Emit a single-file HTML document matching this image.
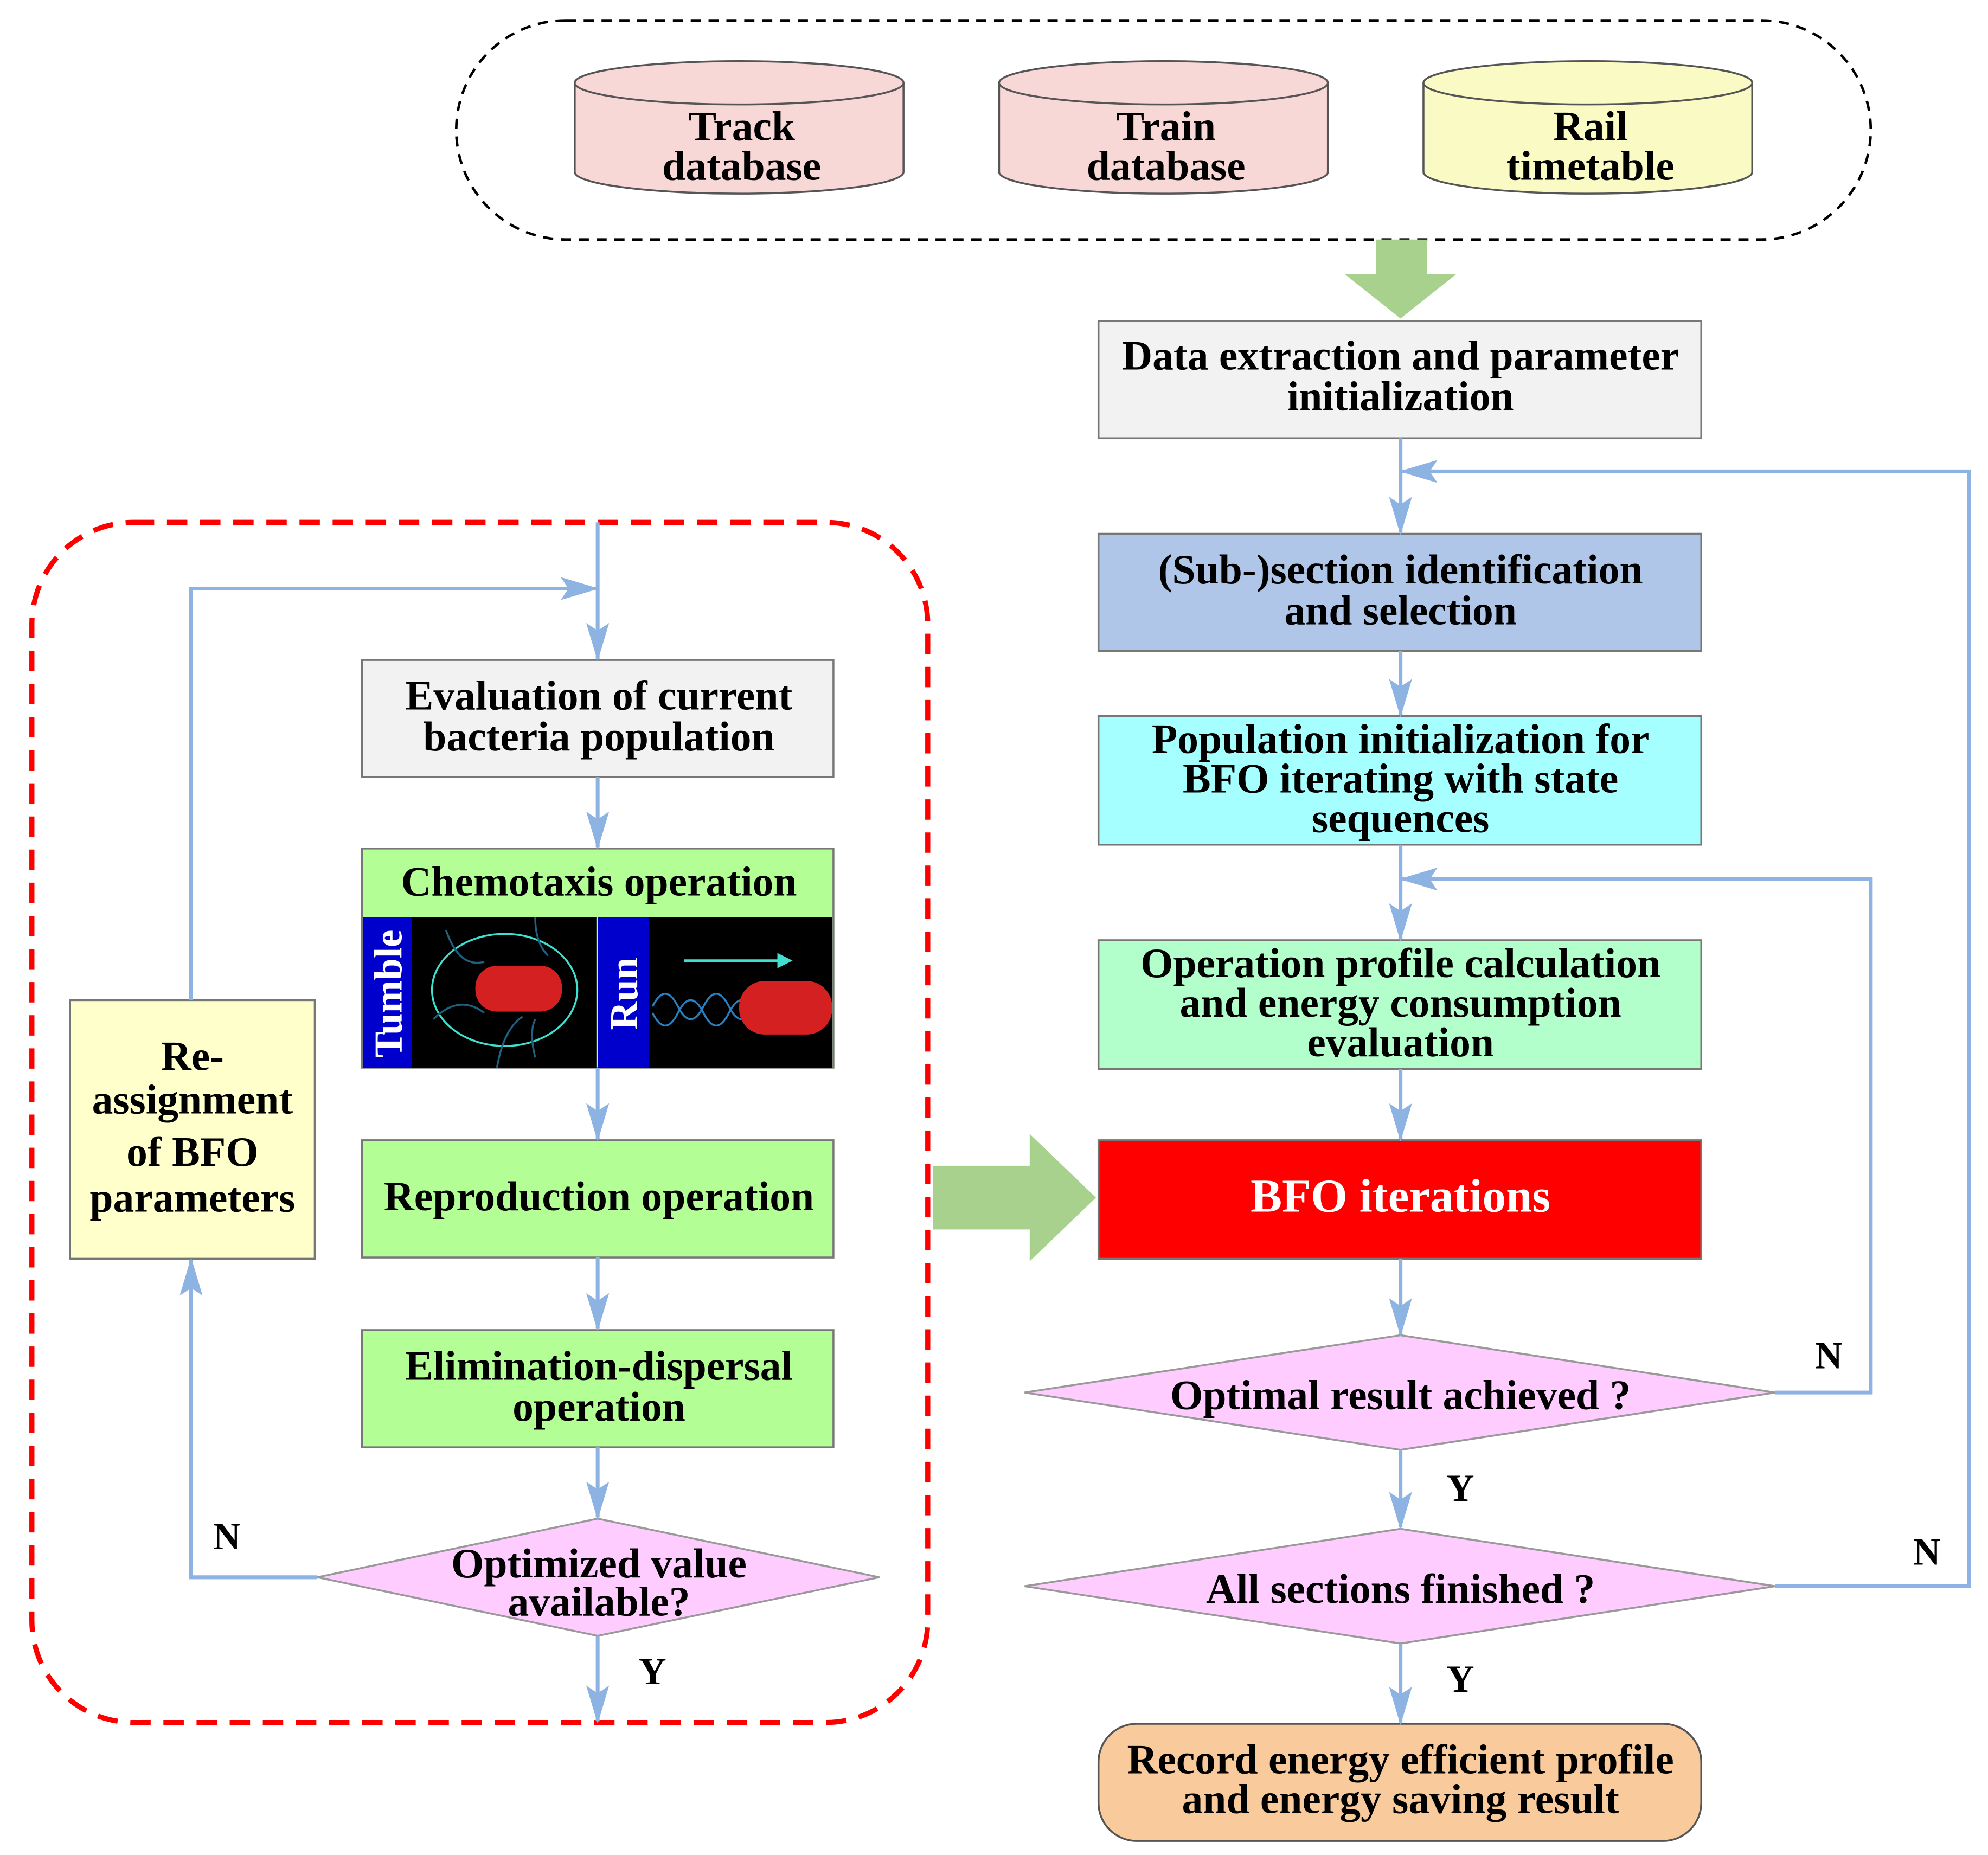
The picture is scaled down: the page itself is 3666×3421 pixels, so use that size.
<!DOCTYPE html>
<html><head><meta charset="utf-8"><style>
html,body{margin:0;padding:0;background:#fff}
svg{display:block}
text{font-family:"Liberation Serif",serif;font-weight:bold;fill:#000;text-anchor:middle}
</style></head><body>
<svg width="3666" height="3421" viewBox="0 0 1560 1456" preserveAspectRatio="none" xmlns="http://www.w3.org/2000/svg">
<defs>
<marker id="a" markerWidth="30" markerHeight="18" refX="28" refY="9" orient="auto" markerUnits="userSpaceOnUse" viewBox="0 0 30 18">
<path d="M0,0 L30,9 L0,18 L6,9 z" fill="#8db3e2"/></marker>
</defs>
<style>.l{stroke:#8db3e2;stroke-width:3;fill:none}</style>
<rect x="358" y="16" width="1110" height="172" rx="86" fill="none" stroke="#000" stroke-width="2" stroke-dasharray="8,6"/>
<g stroke="#555" stroke-width="1.5">
<path d="M451,65 V135 A129,17 0 0 0 709,135 V65" fill="#f8d7d7"/><ellipse cx="580" cy="65" rx="129" ry="17" fill="#f8d7d7"/>
<path d="M784,65 V135 A129,17 0 0 0 1042,135 V65" fill="#f8d7d7"/><ellipse cx="913" cy="65" rx="129" ry="17" fill="#f8d7d7"/>
<path d="M1117,65 V135 A129,17 0 0 0 1375,135 V65" fill="#fafbc4"/><ellipse cx="1246" cy="65" rx="129" ry="17" fill="#fafbc4"/>
</g>
<text x="582" y="110" font-size="33">Track</text><text x="582" y="141" font-size="33">database</text>
<text x="915" y="110" font-size="33">Train</text><text x="915" y="141" font-size="33">database</text>
<text x="1248" y="110" font-size="33">Rail</text><text x="1248" y="141" font-size="33">timetable</text>
<polygon points="1080,188 1120,188 1120,215 1143,215 1099,250 1055,215 1080,215" fill="#a9d18e"/>
<rect x="862" y="252" width="473" height="92" fill="#f2f2f2" stroke="#777" stroke-width="1.5"/>
<text x="1099" y="290" font-size="33">Data extraction and parameter</text><text x="1099" y="322" font-size="33">initialization</text>
<rect x="862" y="419" width="473" height="92" fill="#afc6e8" stroke="#777" stroke-width="1.5"/>
<text x="1099" y="458" font-size="33">(Sub-)section identification</text><text x="1099" y="490" font-size="33">and selection</text>
<rect x="862" y="562" width="473" height="101" fill="#a6ffff" stroke="#777" stroke-width="1.5"/>
<text x="1099" y="591" font-size="33">Population initialization for</text><text x="1099" y="622" font-size="33">BFO iterating with state</text><text x="1099" y="653" font-size="33">sequences</text>
<rect x="862" y="738" width="473" height="101" fill="#b3ffcc" stroke="#777" stroke-width="1.5"/>
<text x="1099" y="767" font-size="33">Operation profile calculation</text><text x="1099" y="798" font-size="33">and energy consumption</text><text x="1099" y="829" font-size="33">evaluation</text>
<rect x="862" y="895" width="473" height="93" fill="#ff0000" stroke="#777" stroke-width="1.5"/>
<text x="1099" y="951" font-size="37" style="fill:#fff">BFO iterations</text>
<polygon points="804,1093 1099,1048 1393,1093 1099,1138" fill="#ffccff" stroke="#999" stroke-width="1.5"/>
<text x="1099" y="1106" font-size="33">Optimal result achieved ?</text>
<polygon points="804,1245 1099,1200 1393,1245 1099,1290" fill="#ffccff" stroke="#999" stroke-width="1.5"/>
<text x="1099" y="1258" font-size="33">All sections finished ?</text>
<rect x="862" y="1353" width="473" height="92" rx="30" fill="#f9cb9c" stroke="#555" stroke-width="1.5"/>
<text x="1099" y="1392" font-size="33">Record energy efficient profile</text><text x="1099" y="1423" font-size="33">and energy saving result</text>
<line class="l" x1="1099" y1="344" x2="1099" y2="418" marker-end="url(#a)"/>
<line class="l" x1="1099" y1="511" x2="1099" y2="561" marker-end="url(#a)"/>
<line class="l" x1="1099" y1="663" x2="1099" y2="737" marker-end="url(#a)"/>
<line class="l" x1="1099" y1="839" x2="1099" y2="894" marker-end="url(#a)"/>
<line class="l" x1="1099" y1="988" x2="1099" y2="1047" marker-end="url(#a)"/>
<line class="l" x1="1099" y1="1138" x2="1099" y2="1199" marker-end="url(#a)"/>
<line class="l" x1="1099" y1="1290" x2="1099" y2="1352" marker-end="url(#a)"/>
<polyline class="l" points="1393,1093 1468,1093 1468,690 1100,690" marker-end="url(#a)"/>
<polyline class="l" points="1393,1245 1545,1245 1545,370 1100,370" marker-end="url(#a)"/>
<text x="1435" y="1074" font-size="30">N</text><text x="1512" y="1228" font-size="30">N</text>
<text x="1146" y="1178" font-size="30">Y</text><text x="1146" y="1328" font-size="30">Y</text>
<polygon points="732,915 808,915 808,890 860,940 808,990 808,965 732,965" fill="#a9d18e"/>
<rect x="25" y="410" width="703" height="942" rx="80" fill="none" stroke="#ff0000" stroke-width="4" stroke-dasharray="16,10"/>
<rect x="284" y="518" width="370" height="92" fill="#f2f2f2" stroke="#777" stroke-width="1.5"/>
<text x="470" y="557" font-size="33">Evaluation of current</text><text x="470" y="589" font-size="33">bacteria population</text>
<rect x="284" y="666" width="370" height="172" fill="#b3ff96" stroke="#777" stroke-width="1.5"/>
<text x="470" y="703" font-size="33">Chemotaxis operation</text>
<rect x="285" y="720" width="183" height="118" fill="#000"/>
<rect x="285" y="720" width="38" height="118" fill="#0000cc"/>
<rect x="469" y="720" width="184" height="118" fill="#000"/>
<rect x="469" y="720" width="40" height="118" fill="#0000cc"/>
<text transform="translate(315,780) rotate(-90)" font-size="31" style="fill:#fff">Tumble</text>
<text transform="translate(500,780) rotate(-90)" font-size="31" style="fill:#fff">Run</text>
<ellipse cx="396" cy="777" rx="57" ry="44" fill="none" stroke="#40e0d0" stroke-width="1.5"/>
<path d="M350,730 q10,30 30,25 M340,800 q20,-20 40,-5 M420,830 q-5,-20 0,-30 M390,838 q5,-30 20,-40 M420,720 q0,20 10,30" stroke="#1e6080" stroke-width="1.5" fill="none"/>
<rect x="373" y="758" width="68" height="36" rx="17" fill="#d42020"/>
<line x1="537" y1="754" x2="612" y2="754" stroke="#40e0d0" stroke-width="2"/><polygon points="610,748 622,754 610,760" fill="#40e0d0"/>
<path d="M512,790 q10,-20 20,0 t20,0 t20,0 t20,0 t20,0 M512,795 q10,20 20,0 t20,0 t20,0 t20,0 t20,0" stroke="#2a7fbf" stroke-width="1.5" fill="none"/>
<rect x="580" y="770" width="73" height="42" rx="20" fill="#d42020"/>
<rect x="284" y="895" width="370" height="92" fill="#b3ff96" stroke="#777" stroke-width="1.5"/>
<text x="470" y="950" font-size="33">Reproduction operation</text>
<rect x="284" y="1044" width="370" height="92" fill="#b3ff96" stroke="#777" stroke-width="1.5"/>
<text x="470" y="1083" font-size="33">Elimination-dispersal</text><text x="470" y="1115" font-size="33">operation</text>
<polygon points="249,1238 469,1192 690,1238 469,1284" fill="#ffccff" stroke="#999" stroke-width="1.5"/>
<text x="470" y="1238" font-size="33">Optimized value</text><text x="470" y="1268" font-size="33">available?</text>
<rect x="55" y="785" width="192" height="203" fill="#ffffcc" stroke="#777" stroke-width="1.5"/>
<text x="151" y="840" font-size="33">Re-</text><text x="151" y="874" font-size="33">assignment</text><text x="151" y="915" font-size="33">of BFO</text><text x="151" y="951" font-size="33">parameters</text>
<line class="l" x1="469" y1="410" x2="469" y2="517" marker-end="url(#a)"/>
<line class="l" x1="469" y1="610" x2="469" y2="665" marker-end="url(#a)"/>
<line class="l" x1="469" y1="838" x2="469" y2="894" marker-end="url(#a)"/>
<line class="l" x1="469" y1="987" x2="469" y2="1043" marker-end="url(#a)"/>
<line class="l" x1="469" y1="1136" x2="469" y2="1191" marker-end="url(#a)"/>
<line class="l" x1="469" y1="1284" x2="469" y2="1351" marker-end="url(#a)"/>
<polyline class="l" points="150,785 150,462 468,462" marker-end="url(#a)"/>
<polyline class="l" points="249,1238 150,1238 150,989" marker-end="url(#a)"/>
<text x="178" y="1216" font-size="30">N</text><text x="512" y="1322" font-size="30">Y</text>
</svg>
</body></html>
